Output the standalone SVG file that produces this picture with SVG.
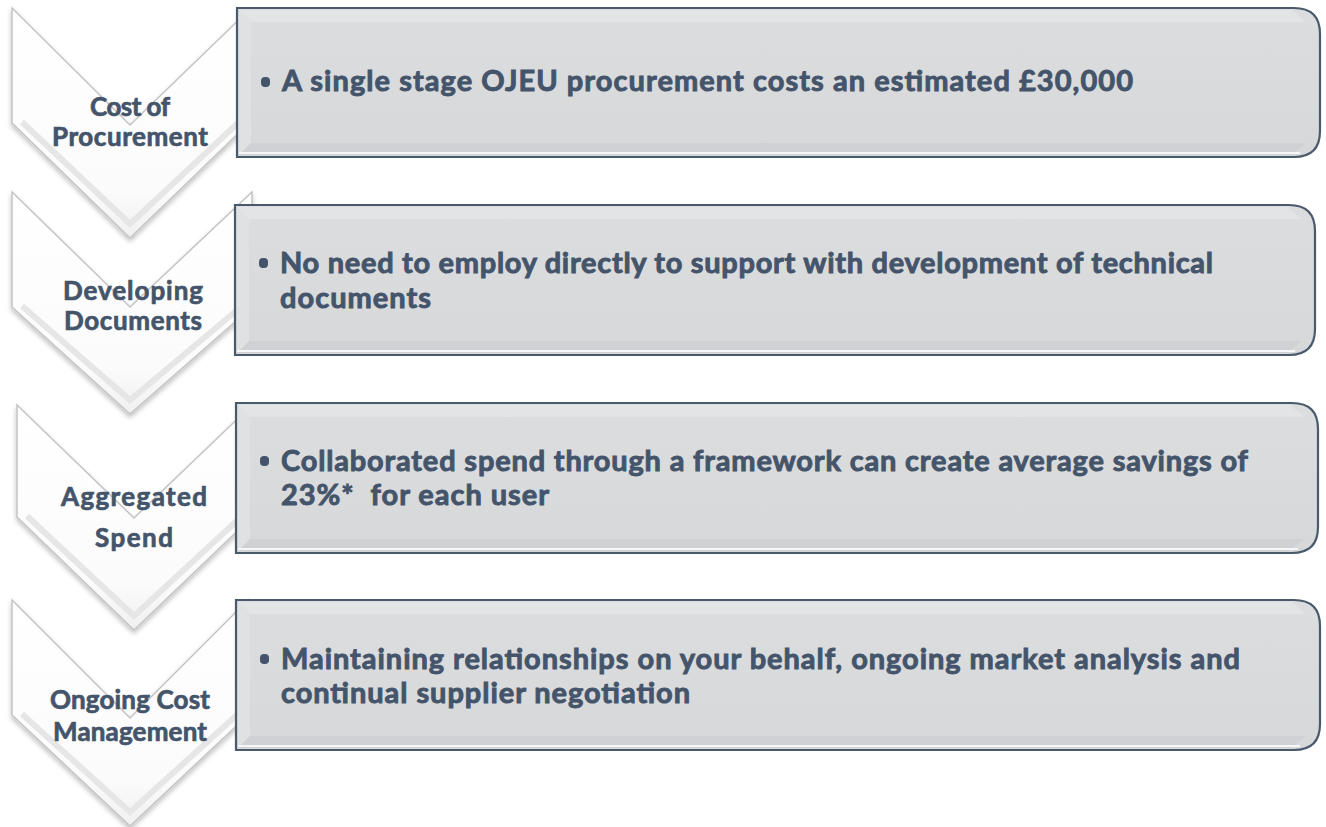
<svg xmlns="http://www.w3.org/2000/svg" width="1326" height="827" viewBox="0 0 1326 827">
<defs>
<linearGradient id="chevFill" x1="0" y1="0" x2="0" y2="1">
<stop offset="0" stop-color="#ffffff"/>
<stop offset="0.8" stop-color="#fbfbfb"/>
<stop offset="1" stop-color="#f0f0f0"/>
</linearGradient>
<linearGradient id="boxFill" x1="0" y1="0" x2="0" y2="1">
<stop offset="0" stop-color="#dcdddf"/>
<stop offset="1" stop-color="#d6d8da"/>
</linearGradient>
<filter id="sh" x="-10%" y="-10%" width="120%" height="130%">
<feGaussianBlur in="SourceAlpha" stdDeviation="2.5"/>
<feOffset dx="0" dy="3" result="b"/>
<feComponentTransfer><feFuncA type="linear" slope="0.25"/></feComponentTransfer>
<feMerge><feMergeNode/><feMergeNode in="SourceGraphic"/></feMerge>
</filter>
</defs>
<style>
.chev{fill:url(#chevFill);stroke:#c4c4c4;stroke-width:1.5;filter:url(#sh)}
.chevIn{fill:none;stroke:#e6e6e6;stroke-width:6;stroke-linejoin:miter}
.box{fill:url(#boxFill);stroke:#4a5a6d;stroke-width:2.2}
.bevT{fill:#e3e4e6}
.bevL{fill:#e0e1e3}
.bevB{fill:#cfd1d4}
.lbl{font-family:Lato,"Open Sans",sans-serif;font-weight:700;font-size:26px;fill:#44546a;stroke:#44546a;stroke-width:0.7;text-anchor:middle}
.txt{font-family:Lato,"Open Sans",sans-serif;font-weight:700;font-size:29px;fill:#44546a;stroke:#44546a;stroke-width:0.9}
.bul{fill:#44546a}
</style>

<g id="chevrons">
<g id="chevron-1">
<polygon class="chev" points="12,8 130,125 249,10 249,123 130,238 12,123"/>
<polyline class="chevIn" points="22,122 130,224 239,122"/>
</g>
<g id="chevron-2">
<polygon class="chev" points="12,192 130,307 252,192 252,307 130,414 12,307"/>
<polyline class="chevIn" points="22,306 130,400 242,306"/>
</g>
<g id="chevron-3">
<polygon class="chev" points="17,405 134,518 252,405 252,517 134,630 17,517"/>
<polyline class="chevIn" points="27,516 134,616 242,516"/>
</g>
<g id="chevron-4">
<polygon class="chev" points="12,600 130,718 248,600 248,715 130,826 12,715"/>
<polyline class="chevIn" points="22,714 130,812 238,714"/>
</g>
</g>

<g id="node-1">
<path class="box" d="M237,8 H1294 Q1320,8 1320,34 V131 Q1320,157 1294,157 H237 Z"/>
<polygon class="bevT" points="239,10 1292,10 1306,22 251,22"/>
<polygon class="bevL" points="239,10 251,22 251,143 239,155"/>
<polygon class="bevB" points="251,143 1306,143 1292,155 239,155"/>
<line x1="239" y1="153" x2="1300" y2="153" stroke="#f6f7f8" stroke-width="2"/>
<rect x="261" y="77" width="9" height="10" rx="4" class="bul"/>
<text class="txt" x="282" y="91" textLength="851">A single stage OJEU procurement costs an estimated £30,000</text>
<text class="lbl" x="130" y="116" textLength="80">Cost of</text>
<text class="lbl" x="130" y="146" textLength="156">Procurement</text>
</g>

<g id="node-2">
<path class="box" d="M235,205 H1289 Q1315,205 1315,231 V329 Q1315,355 1289,355 H235 Z"/>
<polygon class="bevT" points="237,207 1287,207 1301,219 249,219"/>
<polygon class="bevL" points="237,207 249,219 249,341 237,353"/>
<polygon class="bevB" points="249,341 1301,341 1287,353 237,353"/>
<line x1="237" y1="351" x2="1295" y2="351" stroke="#f6f7f8" stroke-width="2"/>
<rect x="259" y="258" width="9" height="10" rx="4" class="bul"/>
<text class="txt" x="280" y="273" textLength="933">No need to employ directly to support with development of technical</text>
<text class="txt" x="280" y="308" textLength="151">documents</text>
<text class="lbl" x="133" y="300" textLength="140">Developing</text>
<text class="lbl" x="133" y="330" textLength="138">Documents</text>
</g>

<g id="node-3">
<path class="box" d="M236,403 H1292 Q1318,403 1318,429 V527 Q1318,553 1292,553 H236 Z"/>
<polygon class="bevT" points="238,405 1290,405 1304,417 250,417"/>
<polygon class="bevL" points="238,405 250,417 250,539 238,551"/>
<polygon class="bevB" points="250,539 1304,539 1290,551 238,551"/>
<line x1="238" y1="549" x2="1298" y2="549" stroke="#f6f7f8" stroke-width="2"/>
<rect x="260" y="456" width="9" height="10" rx="4" class="bul"/>
<text class="txt" x="281" y="471" textLength="967">Collaborated spend through a framework can create average savings of</text>
<text class="txt" x="281" y="505" textLength="268" xml:space="preserve">23%*  for each user</text>
<text class="lbl" x="134" y="506" textLength="146">Aggregated</text>
<text class="lbl" x="134" y="547" textLength="78">Spend</text>
</g>

<g id="node-4">
<path class="box" d="M236,600 H1294 Q1320,600 1320,626 V724 Q1320,750 1294,750 H236 Z"/>
<polygon class="bevT" points="238,602 1292,602 1306,614 250,614"/>
<polygon class="bevL" points="238,602 250,614 250,736 238,748"/>
<polygon class="bevB" points="250,736 1306,736 1292,748 238,748"/>
<line x1="238" y1="746" x2="1300" y2="746" stroke="#f6f7f8" stroke-width="2"/>
<rect x="260" y="654" width="9" height="10" rx="4" class="bul"/>
<text class="txt" x="281" y="669" textLength="959">Maintaining relationships on your behalf, ongoing market analysis and</text>
<text class="txt" x="281" y="703" textLength="409">continual supplier negotiation</text>
<text class="lbl" x="130" y="709" textLength="160">Ongoing Cost</text>
<text class="lbl" x="130" y="741" textLength="154">Management</text>
</g>
</svg>
